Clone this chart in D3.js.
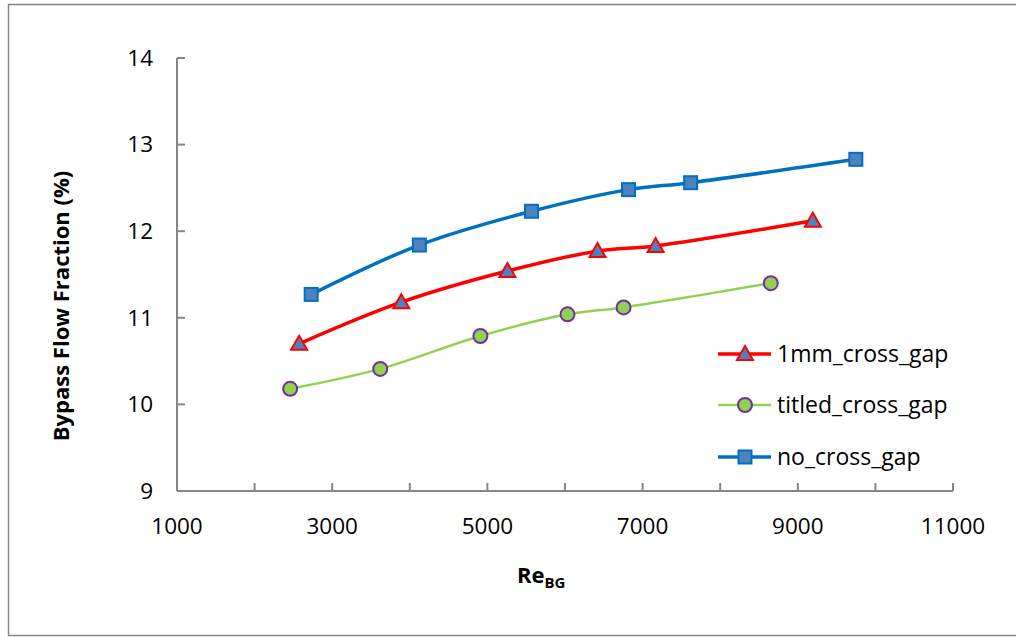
<!DOCTYPE html>
<html>
<head>
<meta charset="utf-8">
<script src="https://cdn.jsdelivr.net/npm/d3@7"></script>
<style>
  body { margin: 0; background: #fff; }
  svg { display: block; font-family: "Open Sans", "Noto Sans", sans-serif; }
</style>
</head>
<body>
<svg id="chart" width="1016" height="637"></svg>
<script>
// Series data
const seriesNames = ['1mm_cross_gap', 'titled_cross_gap', 'no_cross_gap'];
const gap1mmX = [2574, 3890, 5258, 6419, 7168, 9194];
const gap1mmY = [10.70, 11.18, 11.54, 11.77, 11.83, 12.12];
const tiltedX = [2458, 3619, 4910, 6032, 6755, 8652];
const tiltedY = [10.18, 10.41, 10.79, 11.04, 11.12, 11.40];
const noGapX = [2729, 4123, 5568, 6819, 7619, 9748];
const noGapY = [11.27, 11.84, 12.23, 12.48, 12.56, 12.83];

const xTicks = [1000, 2000, 3000, 4000, 5000, 6000, 7000, 8000, 9000, 10000, 11000];
const xTickLabels = [1000, 3000, 5000, 7000, 9000, 11000];
const yTicks = [9, 10, 11, 12, 13, 14];

const svg = d3.select('#chart');

// chart frame
svg.append('rect')
    .attr('x', 8.5).attr('y', 4.5)
    .attr('width', 1020).attr('height', 631)
    .attr('fill', 'none')
    .attr('stroke', '#868686')
    .attr('stroke-width', 1.5);

const x = d3.scaleLinear().domain([1000, 11000]).range([177, 953]);
const y = d3.scaleLinear().domain([9, 14]).range([491, 58]);

const axisColor = '#868686';

// axes lines
svg.append('line')
    .attr('x1', x(1000)).attr('x2', x(11000))
    .attr('y1', y(9)).attr('y2', y(9))
    .attr('stroke', axisColor).attr('stroke-width', 2);
svg.append('line')
    .attr('x1', x(1000)).attr('x2', x(1000))
    .attr('y1', y(9)).attr('y2', y(14))
    .attr('stroke', axisColor).attr('stroke-width', 2);

// ticks (inside)
svg.selectAll('.xtick')
    .data(xTicks)
    .join('line')
    .attr('x1', d => x(d)).attr('x2', d => x(d))
    .attr('y1', y(9)).attr('y2', y(9) - 8)
    .attr('stroke', axisColor).attr('stroke-width', 2);
svg.selectAll('.ytick')
    .data(yTicks)
    .join('line')
    .attr('x1', x(1000)).attr('x2', x(1000) + 8)
    .attr('y1', d => y(d)).attr('y2', d => y(d))
    .attr('stroke', axisColor).attr('stroke-width', 2);

// tick labels
svg.selectAll('.xlabel')
    .data(xTickLabels)
    .join('text')
    .attr('x', d => x(d))
    .attr('y', 534)
    .attr('text-anchor', 'middle')
    .attr('font-size', 22.5)
    .attr('fill', '#000')
    .text(d => d);
svg.selectAll('.ylabel')
    .data(yTicks)
    .join('text')
    .attr('x', 153)
    .attr('y', d => y(d))
    .attr('dy', '0.35em')
    .attr('text-anchor', 'end')
    .attr('font-size', 22.5)
    .attr('fill', '#000')
    .text(d => d);

// axis titles
svg.append('text')
    .attr('transform', 'translate(69,306) rotate(-90)')
    .attr('text-anchor', 'middle')
    .attr('font-size', 22)
    .attr('font-weight', 'bold')
    .text('Bypass Flow Fraction (%)');

const xt = svg.append('text')
    .attr('x', 517).attr('y', 583)
    .attr('font-size', 22)
    .attr('font-weight', 'bold');
xt.append('tspan').text('Re');
xt.append('tspan').attr('font-size', 15).attr('dy', 5).text('BG');

// series definitions
const series = [
    { name: seriesNames[0], xs: gap1mmX, ys: gap1mmY, line: '#ff0000', width: 3.5,
      marker: 'triangle', fill: '#4f81bd', stroke: '#ff0000' },
    { name: seriesNames[1], xs: tiltedX, ys: tiltedY, line: '#92d050', width: 2.5,
      marker: 'circle', fill: '#92d050', stroke: '#7030a0' },
    { name: seriesNames[2], xs: noGapX, ys: noGapY, line: '#0070c0', width: 3.5,
      marker: 'square', fill: '#4f81bd', stroke: '#0070c0' }
];

const lineGen = d3.line()
    .x(d => x(d[0]))
    .y(d => y(d[1]))
    .curve(d3.curveCatmullRom.alpha(0.5));

function drawMarker(g, type, cx, cy, fill, stroke) {
    if (type === 'triangle') {
        g.append('path')
            .attr('d', `M${cx},${cy - 8}L${cx + 8},${cy + 6}L${cx - 8},${cy + 6}Z`)
            .attr('fill', fill).attr('stroke', stroke).attr('stroke-width', 2);
    } else if (type === 'circle') {
        g.append('circle')
            .attr('cx', cx).attr('cy', cy).attr('r', 7)
            .attr('fill', fill).attr('stroke', stroke).attr('stroke-width', 2);
    } else {
        g.append('rect')
            .attr('x', cx - 6.5).attr('y', cy - 6.5)
            .attr('width', 13).attr('height', 13)
            .attr('fill', fill).attr('stroke', stroke).attr('stroke-width', 2);
    }
}

// draw order: tilted, 1mm, no gap
[series[1], series[0], series[2]].forEach(s => {
    const pts = s.xs.map((v, i) => [v, s.ys[i]]);
    svg.append('path')
        .datum(pts)
        .attr('fill', 'none')
        .attr('stroke', s.line)
        .attr('stroke-width', s.width)
        .attr('d', lineGen);
    const g = svg.append('g');
    pts.forEach(p => drawMarker(g, s.marker, x(p[0]), y(p[1]), s.fill, s.stroke));
});

// legend
const legendY = [354, 405, 457];
series.forEach((s, i) => {
    const g = svg.append('g');
    g.append('line')
        .attr('x1', 718).attr('x2', 771)
        .attr('y1', legendY[i]).attr('y2', legendY[i])
        .attr('stroke', s.line).attr('stroke-width', s.width);
    drawMarker(g, s.marker, 745, legendY[i], s.fill, s.stroke);
    g.append('text')
        .attr('x', 777).attr('y', legendY[i])
        .attr('dy', '0.35em')
        .attr('font-size', 23)
        .text(s.name);
});
</script>
</body>
</html>
